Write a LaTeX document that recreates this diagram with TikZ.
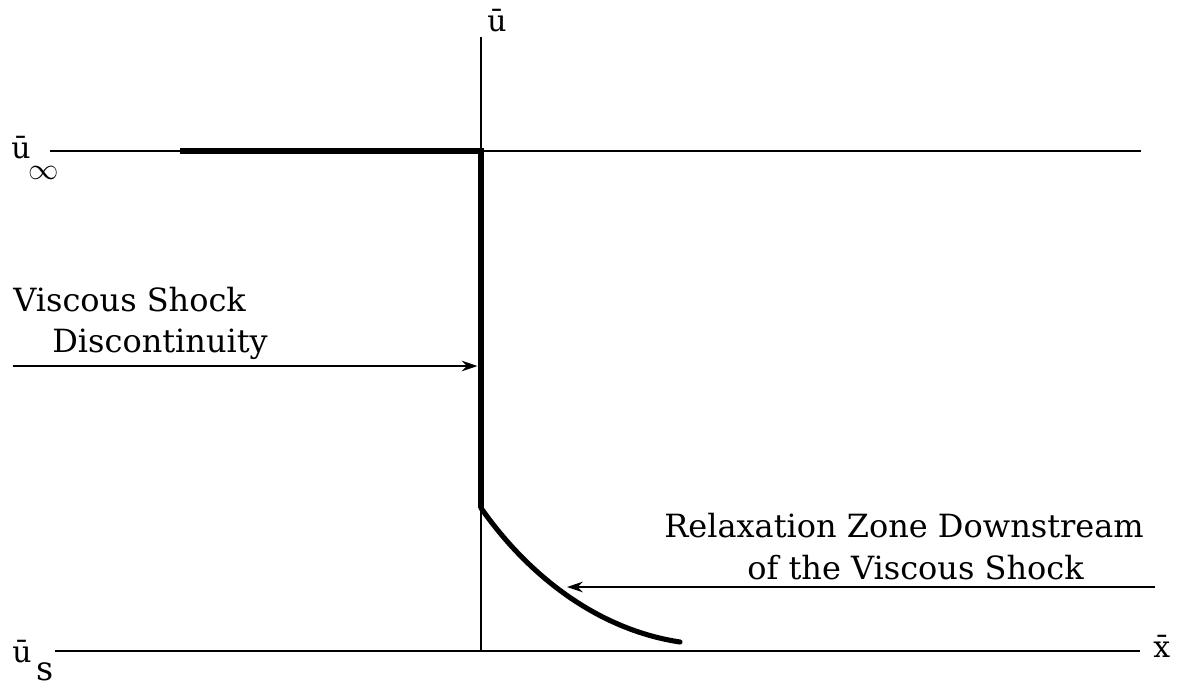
\documentclass[tikz,border=0pt]{standalone}
\usepackage{fontspec}
\setmainfont{DejaVu Serif}
\usetikzlibrary{arrows.meta,positioning}
\begin{document}
\begin{tikzpicture}[x=0.02cm, y=-0.02cm,
  thin line/.style={line width=1.1pt, black},
  shock/.style={line width=2.9pt, black, line cap=round},
  arr/.style={thin line, -{Stealth[length=9pt, width=6pt]}},
  txt/.style={inner sep=0pt, font=\fontsize{18.2}{22}\selectfont},
  lbl/.style={inner sep=0pt, font=\fontsize{17}{19}\selectfont},
  sub/.style={inner sep=0pt, font=\fontsize{19}{21}\selectfont}]
\useasboundingbox (0,0) rectangle (1182,686);
%% axes
\coordinate (O) at (481,651);
\coordinate (utop) at (481,37);
\coordinate (xend) at (1140,651);
\coordinate (xstart) at (55,651);
\coordinate (inf0) at (50,151);
\coordinate (inf1) at (1141,151);
\draw[thin line] (O) -- (utop);
\draw[thin line] (xstart) -- (xend);
\draw[thin line] (inf0) -- (inf1);
\node[lbl, anchor=base west] (ulab) at (487,32) {ū};
\node[lbl, anchor=base west] (xlab) at (1153,657) {\={x}};
\node[lbl, anchor=base west] (uinf) at (11,158) {ū};
\node[sub, anchor=center] (inf) at (44,173) {$\infty$};
\node[lbl, anchor=base west] (us) at (12,662) {ū};
\node[sub, anchor=base west] (s) at (36,680) {s};
%% profile
\coordinate (up) at (180,151);
\coordinate (corner) at (481,151);
\coordinate (jump) at (481,508);
\coordinate (rel) at (680,642);
\draw[shock, line cap=butt] (up) -- (corner) -- (jump);
\draw[shock] (jump) .. controls (530,578) and (600,630) .. (rel);
%% viscous shock label
\node[txt, anchor=base west] (vs1) at (13,311) {Viscous Shock};
\node[txt, anchor=base west] (vs2) at (52,352) {Discontinuity};
\coordinate (vsa) at (13,366);
\draw[arr, shorten >=2pt] (vsa) -- (vsa -| jump);
%% relaxation zone label
\node[txt, anchor=base west] (rz1) at (664,537) {Relaxation Zone Downstream};
\node[txt, anchor=base west] (rz2) at (747,579) {of the Viscous Shock};
\coordinate (rza) at (1155,587);
\coordinate (rzt) at (567,587);
\draw[arr] (rza) -- (rzt);
\end{tikzpicture}
\end{document}
